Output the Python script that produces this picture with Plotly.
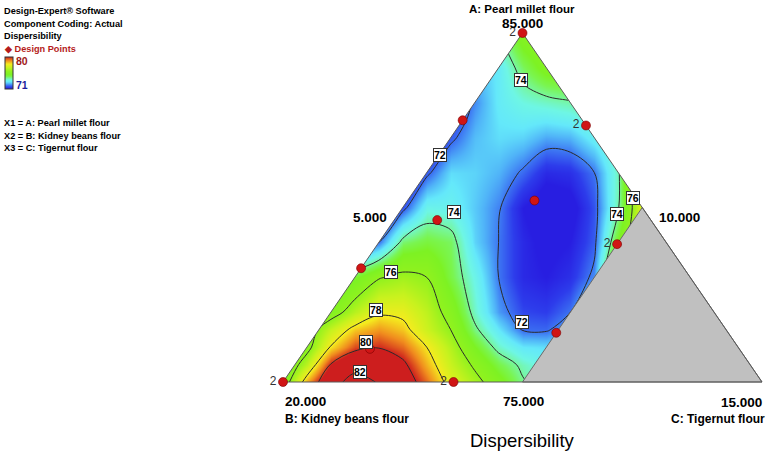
import plotly.graph_objects as go

# ---------------- data ----------------
# Mixture bounds (actual units) and constraint
A_LOW, B_LOW, C_LOW = 75.0, 10.0, 5.0
MIX_RANGE = 10.0
C_LIMIT = 10.0

# Design points (actual composition) and replicate counts
design_A = [85.0, 82.5, 82.35, 79.64, 80.2, 78.26, 78.95, 76.41, 75.0, 75.0, 75.95]
design_B = [10.0, 12.5, 10.0, 14.46, 12.15, 16.74, 11.05, 13.59, 20.0, 16.44, 17.71]
design_C = [5.0, 5.0, 7.65, 5.9, 7.65, 5.0, 10.0, 10.0, 5.0, 8.56, 6.34]
design_reps = [2, 1, 2, 1, 1, 1, 2, 1, 2, 2, 1]

# Response grid: columns = position along B->C base,
# rows = pseudo-height of A (0 = base, 1 = A apex)
grid_u = [0.00, 0.05, 0.10, 0.15, 0.20, 0.25, 0.30, 0.35, 0.40, 0.45, 0.50, 0.55, 0.60, 0.65, 0.70, 0.75, 0.80]
grid_v = [0.00, 0.05, 0.10, 0.15, 0.20, 0.30, 0.40, 0.50, 0.60, 0.70, 0.80, 0.90, 1.00]
dispersibility = [
    [75.0, 78.7, 81.4, 82.6, 81.9, 80.9, 79.3, 77.5, 76.4, 75.3, 74.1, 73.5, 73.2, 73.5, 74.0, 75.0, 76.0],
    [74.5, 76.8, 80.1, 81.4, 81.6, 80.3, 78.6, 77.0, 75.8, 74.6, 73.8, 73.3, 73.2, 73.5, 74.0, 75.0, 76.0],
    [74.0, 75.5, 78.1, 79.6, 79.9, 79.3, 78.0, 76.6, 75.0, 73.7, 73.0, 72.9, 73.0, 73.5, 74.5, 75.5, 76.5],
    [74.8, 75.2, 77.0, 78.4, 78.9, 78.4, 77.1, 76.0, 74.2, 73.0, 71.95, 71.9, 72.5, 73.5, 75.0, 76.0, 77.0],
    [74.0, 74.5, 75.3, 76.7, 77.8, 77.7, 76.8, 75.5, 73.7, 72.3, 71.6, 71.5, 72.0, 73.5, 75.5, 77.0, 78.0],
    [73.0, 73.0, 74.0, 74.8, 75.9, 76.3, 76.0, 74.6, 73.4, 72.0, 71.2, 71.0, 71.3, 72.2, 77.0, 78.0, 79.0],
    [71.0, 71.0, 71.0, 70.9, 72.0, 74.3, 74.7, 74.4, 72.8, 72.0, 71.2, 70.8, 71.0, 71.8, 75.0, 78.0, 79.0],
    [71.0, 71.0, 71.0, 71.0, 70.2, 71.7, 73.4, 73.3, 72.7, 72.1, 71.0, 70.5, 70.7, 71.7, 73.9, 77.5, 79.0],
    [71.0, 71.0, 71.0, 71.0, 71.0, 70.3, 71.8, 72.9, 72.8, 72.5, 71.9, 71.2, 71.3, 72.0, 73.8, 78.5, 79.0],
    [71.0, 71.0, 71.0, 71.0, 71.0, 71.0, 70.5, 71.8, 72.6, 72.9, 72.8, 72.4, 72.5, 73.2, 74.0, 75.0, 75.0],
    [71.5, 71.5, 71.5, 71.5, 71.5, 71.5, 71.5, 71.0, 72.2, 73.1, 73.5, 73.7, 73.9, 74.3, 74.5, 75.0, 75.0],
    [72.0, 72.0, 72.0, 72.0, 72.0, 72.0, 72.0, 72.0, 72.5, 73.1, 74.4, 75.3, 75.6, 75.6, 75.6, 75.6, 75.6],
    [73.5, 73.5, 73.5, 73.5, 73.5, 73.5, 73.5, 73.5, 73.5, 74.0, 75.5, 76.0, 76.0, 76.0, 76.0, 76.0, 76.0],
]

contour_start, contour_end, contour_step = 72, 82, 2
color_min, color_max = 71, 80
colorbar_values = [71, 80]

# Contour label anchors (actual composition A, B, C) and their levels
label_levels = ["74", "72", "74", "76", "74", "76", "78", "80", "82", "72"]
label_A = [83.65, 81.50, 79.87, 80.27, 79.81, 78.15, 77.06, 76.15, 75.29, 76.72]
label_B = [10.71, 13.47, 13.99, 10.06, 10.63, 16.18, 17.03, 17.70, 18.25, 14.15]
label_C = [5.64, 5.03, 6.14, 9.67, 9.56, 5.67, 5.91, 6.15, 6.46, 9.13]

# ---------------- helpers ----------------
W, H = 767, 456
PX_B, PX_C, PY_BASE, PY_APEX = 283.0, 762.0, 382.0, 33.0


def to_uv(a, b, c):
    ap = (a - A_LOW) / MIX_RANGE
    cp = (c - C_LOW) / MIX_RANGE
    return cp + ap / 2.0, ap


def px(x):
    return x / W


def py(y):
    return 1 - y / H


FONT = "Liberation Sans, Arial, sans-serif"
SCALE = [
    [0.000, "rgb(40,30,225)"],
    [0.056, "rgb(45,60,235)"],
    [0.111, "rgb(60,115,242)"],
    [0.167, "rgb(80,180,248)"],
    [0.222, "rgb(100,232,250)"],
    [0.278, "rgb(110,246,228)"],
    [0.333, "rgb(118,246,160)"],
    [0.389, "rgb(122,245,80)"],
    [0.444, "rgb(125,242,35)"],
    [0.556, "rgb(145,242,30)"],
    [0.667, "rgb(200,242,30)"],
    [0.778, "rgb(245,235,30)"],
    [0.889, "rgb(240,140,30)"],
    [1.000, "rgb(205,30,30)"],
]

fig = go.Figure()

# response surface
fig.add_trace(go.Contour(
    x=grid_u, y=grid_v, z=dispersibility,
    zmin=color_min, zmax=color_max,
    autocontour=False,
    contours=dict(start=contour_start, end=contour_end, size=contour_step,
                  coloring="heatmap", showlabels=False),
    line=dict(color="#2b2b2b", width=1, smoothing=1.0),
    colorscale=SCALE, showscale=False,
    hoverinfo="skip",
))

# vertices in plot coordinates
Au, Av = to_uv(A_LOW + MIX_RANGE, B_LOW, C_LOW)
Bu, Bv = to_uv(A_LOW, B_LOW + MIX_RANGE, C_LOW)
Cu, Cv = to_uv(A_LOW, B_LOW, C_LOW + MIX_RANGE)
M1u, M1v = to_uv(A_LOW, B_LOW + MIX_RANGE - (C_LIMIT - C_LOW), C_LIMIT)   # base point of constraint
M2u, M2v = to_uv(A_LOW + MIX_RANGE - (C_LIMIT - C_LOW), B_LOW, C_LIMIT)   # right-edge point

pad = 0.08
# white masks outside the triangle
fig.add_trace(go.Scatter(x=[Bu - pad, Bu, Au, Au, Bu - pad], y=[Bv, Bv, Av, Av + pad, Av + pad],
                         fill="toself", fillcolor="white", line=dict(width=0), mode="lines",
                         hoverinfo="skip", showlegend=False))
fig.add_trace(go.Scatter(x=[Au, Au, Cu + pad, Cu + pad, Cu], y=[Av, Av + pad, Av + pad, Cv, Cv],
                         fill="toself", fillcolor="white", line=dict(width=0), mode="lines",
                         hoverinfo="skip", showlegend=False))
fig.add_trace(go.Scatter(x=[Bu - pad, Cu + pad, Cu + pad, Bu - pad], y=[Bv, Cv, Bv - pad, Bv - pad],
                         fill="toself", fillcolor="white", line=dict(width=0), mode="lines",
                         hoverinfo="skip", showlegend=False))
# constrained (infeasible) region
fig.add_trace(go.Scatter(x=[M1u, Cu, M2u, M1u], y=[M1v, Cv, M2v, M1v],
                         fill="toself", fillcolor="#c0c0c0", line=dict(color="#6a6a6a", width=1),
                         mode="lines", hoverinfo="skip", showlegend=False))
# triangle outline
fig.add_trace(go.Scatter(x=[Au, Bu, Cu, Au], y=[Av, Bv, Cv, Av], mode="lines",
                         line=dict(color="#5a5a5a", width=1), hoverinfo="skip", showlegend=False))

# design points with replicate counts
du, dv = zip(*[to_uv(a, b, c) for a, b, c in zip(design_A, design_B, design_C)])
fig.add_trace(go.Scatter(x=list(du), y=list(dv), mode="markers+text",
                         text=[str(r) if r > 1 else "" for r in design_reps],
                         textposition="middle left",
                         textfont=dict(family=FONT, size=12, color="#333333"),
                         marker=dict(size=9, color="#d01515", line=dict(color="#7a0000", width=0.6)),
                         hoverinfo="skip", showlegend=False))

# colour legend (gradient bar)
fig.add_trace(go.Scatter(x=[None, None], y=[None, None], mode="markers",
                         marker=dict(color=colorbar_values, colorscale=SCALE, cmin=color_min, cmax=color_max,
                                     showscale=True,
                                     colorbar=dict(x=px(5), xanchor="left", y=py(57), yanchor="top",
                                                   len=32, lenmode="pixels", thickness=8,
                                                   thicknessmode="pixels", xpad=0, ypad=0,
                                                   outlinewidth=1, outlinecolor="#333333",
                                                   showticklabels=False, ticks="")),
                         hoverinfo="skip", showlegend=False))

annotations = []
# contour labels in white boxes
for lab, a, b, c in zip(label_levels, label_A, label_B, label_C):
    u, v = to_uv(a, b, c)
    annotations.append(dict(x=u, y=v, xref="x", yref="y", text=lab, showarrow=False,
                            font=dict(family=FONT, size=10.5, color="black", weight="bold"),
                            bgcolor="white", bordercolor="#333333", borderwidth=1, borderpad=0))


def ann(text, x, y, xanchor="left", size=9.2, color="black", weight="bold"):
    annotations.append(dict(x=px(x), y=py(y), xref="paper", yref="paper", text=text,
                            showarrow=False, xanchor=xanchor, yanchor="middle",
                            font=dict(family=FONT, size=size, color=color, weight=weight)))


# axis texts
ann("A: Pearl millet flour", 522, 9, "center", 11.5)
ann("85.000", 522, 24, "center", 13.5)
ann("5.000", 389, 217, "right", 13.5)
ann("10.000", 657, 217, "left", 13.5)
ann("20.000", 283, 401, "left", 13.5)
ann("75.000", 523, 401, "center", 13.5)
ann("15.000", 764, 402, "right", 13.5)
ann("B: Kidney beans flour", 283, 419, "left", 12)
ann("C: Tigernut flour", 767, 419, "right", 12)
ann("Dispersibility", 522, 440, "center", 18.5, weight="normal")

# header block
ann("Design-Expert® Software", 2, 11)
ann("Component Coding: Actual", 2, 24)
ann("Dispersibility", 2, 36)
ann("◆ Design Points", 2, 48.5, color="#b51c1c")
ann("80", 14, 61, color="#a01818", size=10.5)
ann("71", 14, 85, color="#1c1c9c", size=10.5)
ann("X1 = A: Pearl millet flour", 2, 123.5)
ann("X2 = B: Kidney beans flour", 2, 136)
ann("X3 = C: Tigernut flour", 2, 148)

fig.update_layout(
    width=W, height=H,
    margin=dict(l=0, r=0, t=0, b=0),
    paper_bgcolor="white", plot_bgcolor="white",
    showlegend=False,
    xaxis=dict(range=[(0 - PX_B) / (PX_C - PX_B), (W - PX_B) / (PX_C - PX_B)],
               visible=False, fixedrange=True),
    yaxis=dict(range=[(PY_BASE - H) / (PY_BASE - PY_APEX), PY_BASE / (PY_BASE - PY_APEX)],
               visible=False, fixedrange=True),
    annotations=annotations,
)

fig.write_html("out.html", config={"displayModeBar": False},
               post_script="document.body.style.margin='0';")
